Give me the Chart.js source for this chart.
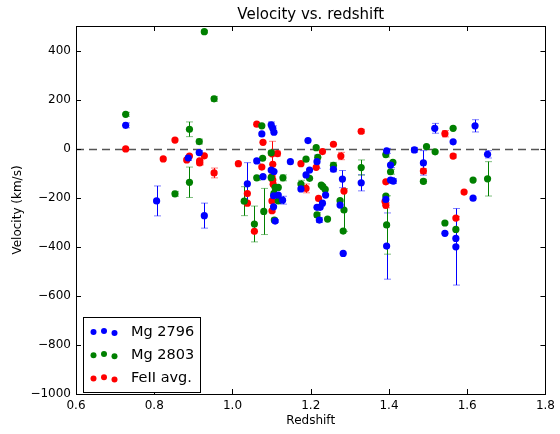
<!DOCTYPE html>
<html>
<head>
<meta charset="utf-8">
<script src="https://cdn.jsdelivr.net/npm/chart.js@4.4.0/dist/chart.umd.min.js"></script>
<style>
  html, body { margin: 0; padding: 0; background: #fff; }
  #wrap { width: 560px; height: 434px; }
</style>
</head>
<body>
<div id="wrap"><canvas id="velocityChart" width="560" height="434"></canvas></div>
<script>
// Mg 2796 (blue)
const mg2796Z   = [0.727, 0.806, 0.887, 0.915, 0.928, 1.038, 1.062, 1.075, 1.078, 1.099, 1.103, 1.106, 1.099, 1.106, 1.117, 1.105, 1.128, 1.105, 1.109, 1.148, 1.193, 1.216, 1.197, 1.188, 1.175, 1.258, 1.281, 1.238, 1.230, 1.224, 1.216, 1.222, 1.275, 1.283, 1.329, 1.394, 1.404, 1.404, 1.411, 1.392, 1.394, 1.465, 1.488, 1.517, 1.543, 1.564, 1.571, 1.571, 1.615, 1.620, 1.652];
const mg2796V   = [95, -213, -38, -16, -273, -143, -50, 60, -114, 97, 83, 67, -87, -93, -189, -192, -210, -237, -295, -53, 33, -53, -87, -107, -164, -84, -124, -189, -222, -239, -239, -291, -230, -427, -139, -9, -67, -128, -132, -207, -397, -5, -58, 83, -345, 28, -366, -400, -202, 93, -23];
const mg2796Err = [10, 61, 10, 8, 51, 86, 10, 0, 0, 12, 10, 0, 0, 0, 0, 0, 16, 0, 5, 0, 0, 27, 0, 0, 0, 10, 35, 0, 0, 0, 0, 10, 0, 0, 33, 10, 10, 10, 10, 0, 135, 10, 50, 20, 0, 0, 0, 156, 0, 25, 15];

// Mg 2803 (green)
const mg2803Z   = [0.727, 0.853, 0.890, 0.890, 0.915, 0.928, 0.953, 1.030, 1.056, 1.062, 1.077, 1.075, 1.080, 1.099, 1.099, 1.129, 1.109, 1.117, 1.106, 1.117, 1.107, 1.188, 1.214, 1.218, 1.197, 1.175, 1.227, 1.231, 1.237, 1.216, 1.243, 1.258, 1.275, 1.285, 1.283, 1.329, 1.392, 1.410, 1.404, 1.392, 1.394, 1.488, 1.496, 1.518, 1.543, 1.564, 1.571, 1.615, 1.652];
const mg2803V   = [140, -184, 79, -137, 29, 477, 203, -214, -307, -119, -39, 93, -256, -17, -118, -119, -158, -158, -182, -213, -291, -43, 4, -35, -121, -144, -148, -155, -166, -270, -287, -68, -212, -250, -336, -77, -24, -56, -94, -193, -311, -133, 8, -13, -303, 83, -329, -128, -123];
const mg2803Err = [8, 10, 30, 62, 10, 5, 10, 59, 73, 10, 0, 0, 94, 10, 10, 12, 0, 0, 0, 0, 8, 0, 0, 0, 0, 15, 0, 0, 0, 10, 0, 12, 0, 87, 0, 31, 10, 0, 10, 0, 119, 8, 0, 0, 0, 0, 0, 0, 70];

// FeII avg. (red)
const feIIZ   = [0.727, 0.823, 0.853, 0.890, 0.883, 0.916, 0.916, 0.928, 0.953, 1.015, 1.038, 1.038, 1.056, 1.062, 1.078, 1.075, 1.101, 1.115, 1.103, 1.101, 1.103, 1.104, 1.101, 1.101, 1.175, 1.230, 1.214, 1.188, 1.220, 1.258, 1.277, 1.285, 1.329, 1.392, 1.392, 1.390, 1.488, 1.543, 1.564, 1.571, 1.592];
const feIIV   = [-1, -42, 35, -30, -46, -50, -58, -29, -99, -61, -183, -222, -337, 100, 26, -75, -21, -20, -64, -114, -128, -145, -213, -253, -61, -12, -76, -162, -203, 18, -30, -173, 71, -135, -231, -215, -91, 61, -30, -283, -177];
const feIIErr = [0, 0, 0, 0, 0, 8, 8, 0, 20, 0, 0, 0, 0, 0, 0, 0, 0, 10, 0, 144, 0, 0, 0, 0, 0, 0, 0, 18, 0, 0, 15, 0, 8, 0, 10, 0, 10, 13, 8, 7, 0];

const xTicks = [0.6, 0.8, 1.0, 1.2, 1.4, 1.6, 1.8];
const yTicks = [-1000, -800, -600, -400, -200, 0, 200, 400];

const seriesList = [
  { label: "Mg 2796", z: mg2796Z, v: mg2796V, err: mg2796Err, color: "#0000ff" },
  { label: "Mg 2803", z: mg2803Z, v: mg2803V, err: mg2803Err, color: "#008000" },
  { label: "FeII avg.", z: feIIZ, v: feIIV, err: feIIErr, color: "#ff0000" },
];

const FONT = "'DejaVu Sans', 'Liberation Sans', sans-serif";

const mplLook = {
  id: "mplLook",
  beforeDatasetsDraw(chart) {
    const { ctx, chartArea: a, scales: { x, y } } = chart;
    ctx.save();
    ctx.beginPath();
    ctx.rect(a.left, a.top, a.right - a.left, a.bottom - a.top);
    ctx.clip();
    // zero line
    const y0 = Math.round(y.getPixelForValue(0)) + 0.5;
    ctx.strokeStyle = "#555";
    ctx.lineWidth = 1.6;
    ctx.setLineDash([8, 5]);
    ctx.beginPath();
    ctx.moveTo(a.left, y0);
    ctx.lineTo(a.right, y0);
    ctx.stroke();
    ctx.setLineDash([]);
    // error bars
    seriesList.forEach(s => {
      s.z.forEach((z, i) => {
        const e = s.err[i];
        if (!e) return;
        const px = Math.round(x.getPixelForValue(z)) + 0.5;
        const top = y.getPixelForValue(s.v[i] + e);
        const bot = y.getPixelForValue(s.v[i] - e);
        ctx.strokeStyle = s.color;
        ctx.globalAlpha = 1;
        ctx.lineWidth = 1;
        ctx.beginPath();
        ctx.moveTo(px, top);
        ctx.lineTo(px, bot);
        ctx.stroke();
        ctx.globalAlpha = 0.5;
        ctx.beginPath();
        ctx.moveTo(px - 3.5, top);
        ctx.lineTo(px + 3.5, top);
        ctx.moveTo(px - 3.5, bot);
        ctx.lineTo(px + 3.5, bot);
        ctx.stroke();
      });
    });
    ctx.restore();
  },
  afterDraw(chart) {
    const { ctx, chartArea: a, scales: { x, y } } = chart;
    ctx.save();
    // frame
    ctx.strokeStyle = "#000";
    ctx.lineWidth = 1;
    ctx.strokeRect(Math.round(a.left) + 0.5, Math.round(a.top) + 0.5,
      Math.round(a.right - a.left), Math.round(a.bottom - a.top));
    // inward ticks on all sides
    ctx.beginPath();
    xTicks.forEach(t => {
      const px = Math.round(x.getPixelForValue(t)) + 0.5;
      ctx.moveTo(px, a.bottom); ctx.lineTo(px, a.bottom - 5);
      ctx.moveTo(px, a.top); ctx.lineTo(px, a.top + 5);
    });
    yTicks.concat([500]).forEach(t => {
      const py = Math.round(y.getPixelForValue(t)) + 0.5;
      ctx.moveTo(a.left, py); ctx.lineTo(a.left + 5, py);
      ctx.moveTo(a.right, py); ctx.lineTo(a.right - 5, py);
    });
    ctx.stroke();
    // title and axis titles
    ctx.fillStyle = "#000";
    ctx.textAlign = "center";
    ctx.textBaseline = "middle";
    ctx.font = "15px " + FONT;
    ctx.fillText("Velocity vs. redshift", (a.left + a.right) / 2, 15);
    ctx.font = "12px " + FONT;
    ctx.fillText("Redshift", (a.left + a.right) / 2, 421);
    ctx.save();
    ctx.translate(18, (a.top + a.bottom) / 2);
    ctx.rotate(-Math.PI / 2);
    ctx.fillText("Velocity (km/s)", 0, 0);
    ctx.restore();
    // legend
    const lx = 83.5, ly = 317.5, lw = 117, lh = 75;
    ctx.fillStyle = "#fff";
    ctx.fillRect(lx, ly, lw, lh);
    ctx.strokeStyle = "#000";
    ctx.strokeRect(lx, ly, lw, lh);
    const offs = [0.6, -0.6, 1.6];
    seriesList.forEach((s, k) => {
      const ry = 331.5 + k * 23.2;
      ctx.fillStyle = s.color;
      [93.5, 104, 114.5].forEach((mx, j) => {
        ctx.beginPath();
        ctx.arc(mx, ry + offs[j], 3, 0, Math.PI * 2);
        ctx.fill();
      });
      ctx.fillStyle = "#000";
      ctx.textAlign = "left";
      ctx.font = "14.5px " + FONT;
      ctx.fillText(s.label, 131, ry + 0.5);
    });
    ctx.restore();
  }
};

const fmtMinus = v => String(v).replace("-", "\u2212");

new Chart(document.getElementById("velocityChart"), {
  type: "scatter",
  data: {
    datasets: seriesList.map(s => ({
      label: s.label,
      data: s.z.map((z, i) => ({ x: z, y: s.v[i] })),
      backgroundColor: s.color,
      borderWidth: 0,
      pointRadius: 3.6,
      pointHoverRadius: 3.6,
    })),
  },
  options: {
    responsive: false,
    animation: false,
    devicePixelRatio: 1,
    layout: { padding: { top: 26, right: 14, bottom: 0, left: 0 } },
    plugins: { legend: { display: false }, tooltip: { enabled: false }, title: { display: false } },
    scales: {
      x: {
        type: "linear",
        min: 0.6,
        max: 1.8,
        afterBuildTicks: s => { s.ticks = xTicks.map(v => ({ value: v })); },
        afterFit: s => { s.height = 40; },
        grid: { display: false, drawTicks: false },
        border: { display: false },
        ticks: {
          padding: 5,
          color: "#000",
          font: { family: FONT, size: 12 },
          maxRotation: 0,
          callback: v => Number(v).toFixed(1),
        },
      },
      y: {
        type: "linear",
        min: -1000,
        max: 500,
        afterBuildTicks: s => { s.ticks = yTicks.map(v => ({ value: v })); },
        afterFit: s => { s.width = 76; },
        grid: { display: false, drawTicks: false },
        border: { display: false },
        ticks: {
          padding: 5,
          color: "#000",
          font: { family: FONT, size: 12 },
          callback: v => fmtMinus(v),
        },
      },
    },
  },
  plugins: [mplLook],
});
</script>
</body>
</html>
